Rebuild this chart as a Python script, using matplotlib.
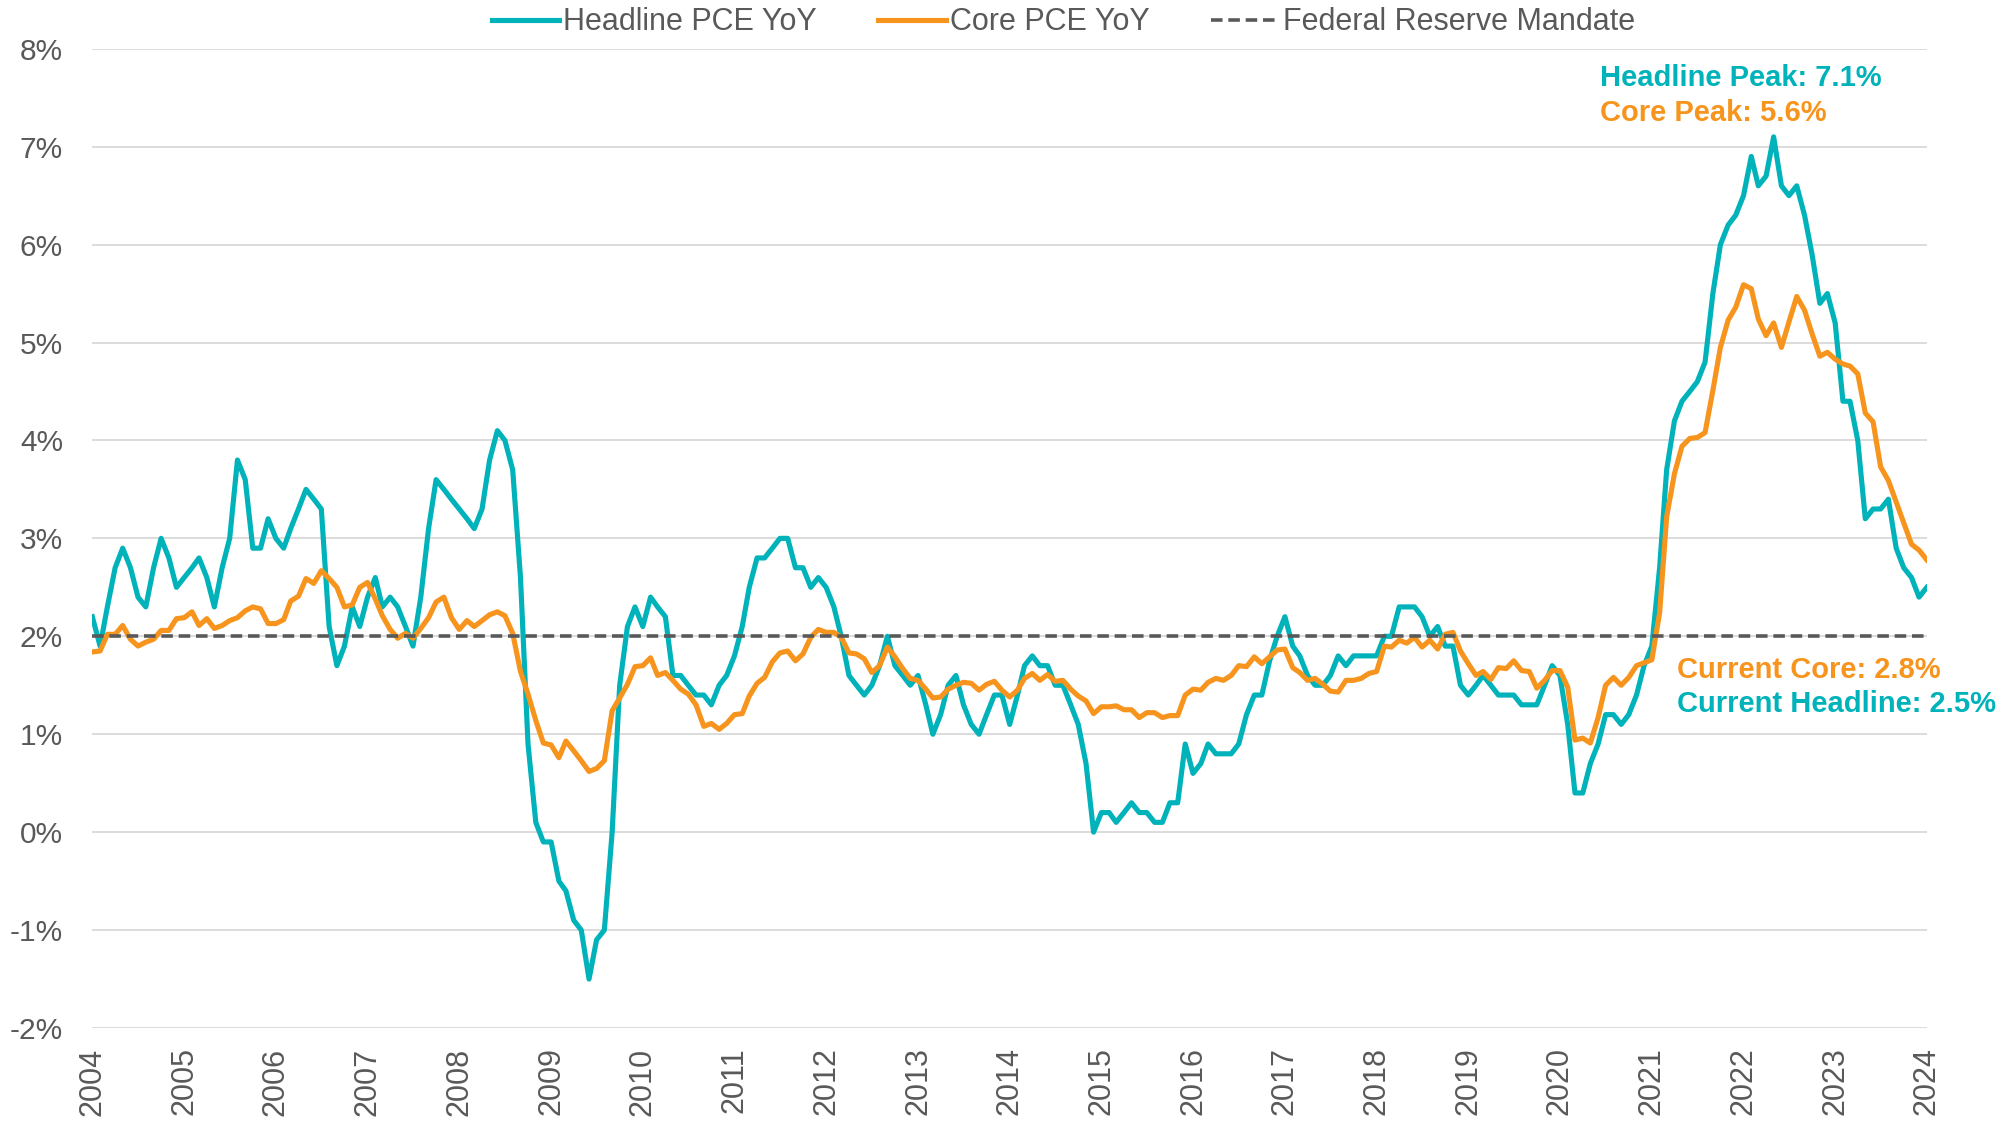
import matplotlib
matplotlib.use("Agg")
import matplotlib.pyplot as plt
import matplotlib.dates as mdates
from matplotlib.ticker import MultipleLocator, FuncFormatter
import pandas as pd

plt.rcParams['font.family'] = ['Liberation Sans', 'DejaVu Sans']

# ---------------- data ----------------
start_month = '2004-01-01'
end_month = '2024-01-01'

headline_pce = [
    2.2, 1.9, 2.3, 2.7, 2.9, 2.7, 2.4, 2.3, 2.7, 3.0, 2.8, 2.5,          # 2004
    2.6, 2.7, 2.8, 2.6, 2.3, 2.7, 3.0, 3.8, 3.6, 2.9, 2.9, 3.2,          # 2005
    3.0, 2.9, 3.1, 3.3, 3.5, 3.4, 3.3, 2.1, 1.7, 1.9, 2.3, 2.1,          # 2006
    2.4, 2.6, 2.3, 2.4, 2.3, 2.1, 1.9, 2.4, 3.1, 3.6, 3.5, 3.4,          # 2007
    3.3, 3.2, 3.1, 3.3, 3.8, 4.1, 4.0, 3.7, 2.6, 0.9, 0.1, -0.1,         # 2008
    -0.1, -0.5, -0.6, -0.9, -1.0, -1.5, -1.1, -1.0, 0.0, 1.5, 2.1, 2.3,  # 2009
    2.1, 2.4, 2.3, 2.2, 1.6, 1.6, 1.5, 1.4, 1.4, 1.3, 1.5, 1.6,          # 2010
    1.8, 2.1, 2.5, 2.8, 2.8, 2.9, 3.0, 3.0, 2.7, 2.7, 2.5, 2.6,          # 2011
    2.5, 2.3, 2.0, 1.6, 1.5, 1.4, 1.5, 1.7, 2.0, 1.7, 1.6, 1.5,          # 2012
    1.6, 1.3, 1.0, 1.2, 1.5, 1.6, 1.3, 1.1, 1.0, 1.2, 1.4, 1.4,          # 2013
    1.1, 1.4, 1.7, 1.8, 1.7, 1.7, 1.5, 1.5, 1.3, 1.1, 0.7, 0.0,          # 2014
    0.2, 0.2, 0.1, 0.2, 0.3, 0.2, 0.2, 0.1, 0.1, 0.3, 0.3, 0.9,          # 2015
    0.6, 0.7, 0.9, 0.8, 0.8, 0.8, 0.9, 1.2, 1.4, 1.4, 1.75, 2.0,         # 2016
    2.2, 1.9, 1.8, 1.6, 1.5, 1.5, 1.6, 1.8, 1.7, 1.8, 1.8, 1.8,          # 2017
    1.8, 2.0, 2.0, 2.3, 2.3, 2.3, 2.2, 2.0, 2.1, 1.9, 1.9, 1.5,          # 2018
    1.4, 1.5, 1.6, 1.5, 1.4, 1.4, 1.4, 1.3, 1.3, 1.3, 1.5, 1.7,          # 2019
    1.6, 1.1, 0.4, 0.4, 0.7, 0.9, 1.2, 1.2, 1.1, 1.2, 1.4, 1.7,          # 2020
    1.9, 2.7, 3.7, 4.2, 4.4, 4.5, 4.6, 4.8, 5.5, 6.0, 6.2, 6.3,          # 2021
    6.5, 6.9, 6.6, 6.7, 7.1, 6.6, 6.5, 6.6, 6.3, 5.9, 5.4, 5.5,          # 2022
    5.2, 4.4, 4.4, 4.0, 3.2, 3.3, 3.3, 3.4, 2.9, 2.7, 2.6, 2.4,          # 2023
    2.5,                                                                 # 2024
]

core_pce = [
    1.84, 1.85, 2.02, 2.02, 2.11, 1.97, 1.90, 1.94, 1.97, 2.06, 2.06, 2.18,  # 2004
    2.19, 2.25, 2.11, 2.18, 2.08, 2.11, 2.16, 2.19, 2.26, 2.30, 2.28, 2.13,  # 2005
    2.13, 2.17, 2.36, 2.41, 2.59, 2.54, 2.67, 2.59, 2.50, 2.30, 2.32, 2.50,  # 2006
    2.55, 2.38, 2.21, 2.07, 1.98, 2.03, 1.98, 2.08, 2.19, 2.35, 2.40, 2.19,  # 2007
    2.07, 2.16, 2.10, 2.16, 2.22, 2.25, 2.21, 2.03, 1.64, 1.41, 1.14, 0.91,  # 2008
    0.89, 0.76, 0.93, 0.83, 0.73, 0.62, 0.65, 0.73, 1.24, 1.37, 1.51, 1.69,  # 2009
    1.70, 1.78, 1.60, 1.63, 1.55, 1.46, 1.41, 1.30, 1.08, 1.11, 1.05, 1.11,  # 2010
    1.20, 1.21, 1.39, 1.52, 1.58, 1.74, 1.83, 1.85, 1.75, 1.82, 1.99, 2.07,  # 2011
    2.04, 2.04, 1.99, 1.83, 1.82, 1.77, 1.63, 1.70, 1.89, 1.79, 1.67, 1.57,  # 2012
    1.55, 1.46, 1.37, 1.38, 1.46, 1.50, 1.53, 1.52, 1.45, 1.51, 1.54, 1.45,  # 2013
    1.38, 1.45, 1.57, 1.62, 1.55, 1.61, 1.54, 1.55, 1.46, 1.39, 1.34, 1.21,  # 2014
    1.28, 1.28, 1.29, 1.25, 1.25, 1.17, 1.22, 1.22, 1.17, 1.19, 1.19, 1.40,  # 2015
    1.46, 1.45, 1.53, 1.57, 1.55, 1.60, 1.70, 1.69, 1.79, 1.72, 1.79, 1.86,  # 2016
    1.87, 1.68, 1.63, 1.55, 1.57, 1.51, 1.44, 1.43, 1.55, 1.55, 1.57, 1.62,  # 2017
    1.64, 1.90, 1.89, 1.96, 1.93, 1.99, 1.89, 1.96, 1.87, 2.02, 2.04, 1.85,  # 2018
    1.72, 1.60, 1.64, 1.56, 1.68, 1.67, 1.75, 1.65, 1.64, 1.47, 1.55, 1.65,  # 2019
    1.65, 1.48, 0.94, 0.96, 0.91, 1.17, 1.50, 1.58, 1.50, 1.58, 1.70, 1.73,  # 2020
    1.76, 2.24, 3.22, 3.66, 3.94, 4.02, 4.03, 4.08, 4.51, 4.95, 5.23, 5.36,  # 2021
    5.59, 5.55, 5.24, 5.07, 5.20, 4.95, 5.21, 5.47, 5.33, 5.09, 4.86, 4.90,  # 2022
    4.83, 4.78, 4.76, 4.68, 4.28, 4.19, 3.73, 3.59, 3.37, 3.16, 2.94, 2.88,  # 2023
    2.78,                                                                    # 2024
]

mandate_level = 2.0

series_labels = ['Headline PCE YoY', 'Core PCE YoY', 'Federal Reserve Mandate']
annotation_texts = ['Headline Peak: 7.1%', 'Core Peak: 5.6%',
                    'Current Core: 2.8%', 'Current Headline: 2.5%']

# ---------------- style ----------------
TEAL = '#00B2B9'
ORANGE = '#F7941D'
DASH = '#595959'
TXT = '#595959'
GRID = '#D9D9D9'

dates = pd.date_range(start_month, end_month, freq='MS')

fig = plt.figure(figsize=(20.1, 11.23), dpi=100)
ax = fig.add_axes([0.04592, 0.0846, 0.9127, 0.8720])

l1, = ax.plot(dates, headline_pce, color=TEAL, lw=3.7, label=series_labels[0], zorder=3)
l2, = ax.plot(dates, core_pce, color=ORANGE, lw=3.7, label=series_labels[1], zorder=3.1)
l3 = ax.axhline(mandate_level, color=DASH, lw=2.6, dashes=(3.2, 1.6),
                label=series_labels[2], zorder=4)

ax.set_xlim(dates[0], dates[-1])
ax.set_ylim(-2, 8)
ax.yaxis.set_major_locator(MultipleLocator(1))
ax.yaxis.set_major_formatter(FuncFormatter(lambda v, p: f"{v:.0f}%"))
ax.xaxis.set_major_locator(mdates.YearLocator())
ax.xaxis.set_major_formatter(mdates.DateFormatter('%Y'))

ax.tick_params(axis='x', length=0, pad=14, labelsize=22, labelcolor=TXT, labelrotation=90)
ax.tick_params(axis='y', length=0, pad=21, labelsize=21.5, labelcolor=TXT)

ax.grid(axis='y', color=GRID, lw=1.3)
ax.grid(axis='x', visible=False)
ax.set_axisbelow(True)
for s in ax.spines.values():
    s.set_visible(False)

fig.legend(handles=[l1, l2, l3], loc='center', bbox_to_anchor=(0.529, 0.980),
           ncol=3, frameon=False, fontsize=22, handlelength=2.2,
           handletextpad=0.15, columnspacing=2.0, labelcolor=TXT)

ax.text(0.822, 0.9698, annotation_texts[0], transform=ax.transAxes, color=TEAL,
        fontsize=21, fontweight='bold', ha='left', va='center', clip_on=False)
ax.text(0.822, 0.9347, annotation_texts[1], transform=ax.transAxes, color=ORANGE,
        fontsize=21, fontweight='bold', ha='left', va='center', clip_on=False)
ax.text(0.8638, 0.3659, annotation_texts[2], transform=ax.transAxes, color=ORANGE,
        fontsize=21, fontweight='bold', ha='left', va='center', clip_on=False)
ax.text(0.8638, 0.3312, annotation_texts[3], transform=ax.transAxes, color=TEAL,
        fontsize=21, fontweight='bold', ha='left', va='center', clip_on=False)

fig.savefig('out.png', dpi=100)
